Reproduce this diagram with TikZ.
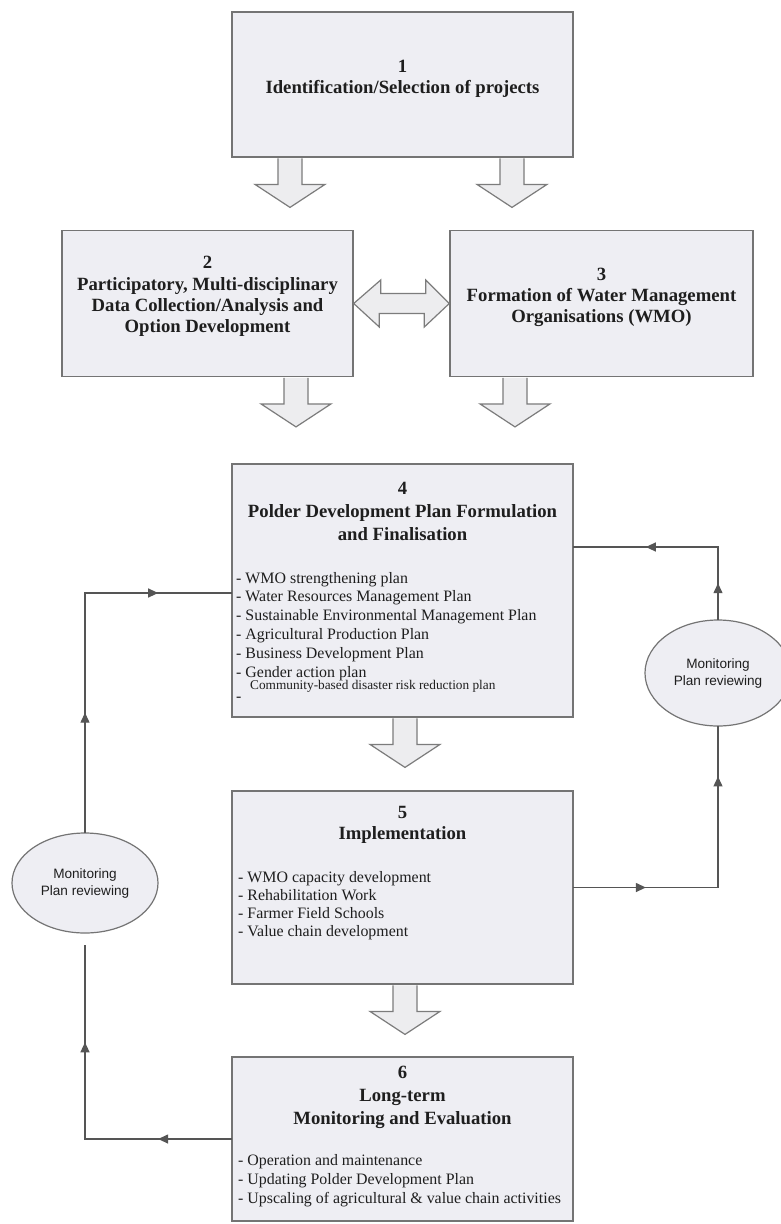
\documentclass[tikz,border=0pt]{standalone}
\usepackage{fontspec}
\setmainfont{Liberation Serif}
\newfontfamily\arialf{Liberation Sans}
\usetikzlibrary{arrows.meta,decorations.markings,shapes.geometric,calc}
\definecolor{boxfill}{HTML}{EEEEF3}
\definecolor{boxline}{HTML}{747474}
\definecolor{arrfill}{HTML}{EDEDEF}
\definecolor{arrline}{HTML}{7C7C7C}
\definecolor{connline}{HTML}{555555}
\definecolor{txt}{HTML}{1E1E1E}
\tikzset{
  box/.style={draw=boxline, fill=boxfill, line width=1.4pt, rectangle, inner sep=0pt},
  ell/.style={draw=boxline, fill=boxfill, line width=1.2pt, ellipse, inner sep=0pt,
    font=\arialf\fontsize{13.6}{17}\selectfont, align=center, text=txt},
  ttl/.style={font=\fontsize{18.7}{21}\selectfont\bfseries, anchor=base, inner sep=0pt, text=txt},
  lst/.style={font=\fontsize{15.9}{18}\selectfont, anchor=base west, inner sep=0pt, text=txt},
  lsts/.style={font=\fontsize{13.3}{15}\selectfont, anchor=base west, inner sep=0pt, text=txt},
  blk/.style={draw=arrline, fill=arrfill, line width=1.2pt, line join=miter},
  conn/.style={draw=connline, line width=1.3pt, line cap=rect},
  midarr/.style={postaction={decorate}, decoration={markings,
    mark=at position #1 with {\arrow{Triangle[length=10pt,width=9pt]}}}},
  midarr/.default=0.5,
  downblk/.pic={\filldraw[blk] (-12,0) -- (-12,26) -- (-35,26) -- (0,49) -- (35,26) -- (12,26) -- (12,0);}
}
\begin{document}
\begin{tikzpicture}[x=1pt,y=-1pt]
\path[use as bounding box, clip] (0,0) rectangle (781,1224);
\fill[white] (0,0) rectangle (781,1224);

% boxes
\node[box, minimum width=341pt, minimum height=145pt] (b1) at (402.5,84.5) {};
\node[box, minimum width=291pt, minimum height=146pt] (b2) at (207.5,303.5) {};
\node[box, minimum width=303pt, minimum height=146pt] (b3) at (601.5,303.5) {};
\node[box, minimum width=341pt, minimum height=253pt] (b4) at (402.5,590.5) {};
\node[box, minimum width=341pt, minimum height=193pt] (b5) at (402.5,887.5) {};
\node[box, minimum width=341pt, minimum height=164pt] (b6) at (402.5,1139) {};

% block arrows
\pic at ([xshift=-112.5pt,yshift=-0.7pt]b1.south) {downblk};
\pic at ([xshift=109.5pt,yshift=-0.7pt]b1.south) {downblk};
\pic at ([xshift=88.5pt,yshift=-0.7pt]b2.south) {downblk};
\pic at ([xshift=-86.5pt,yshift=-0.7pt]b3.south) {downblk};
\pic at ([xshift=2.5pt,yshift=-0.7pt]b4.south) {downblk};
\pic at ([xshift=2.5pt,yshift=-0.7pt]b5.south) {downblk};
\filldraw[blk] (b2.east) -- ++(27,-23.5) -- ++(0,13.5) -- ++(45,0) -- ++(0,-13.5)
  -- (b3.west) -- ++(-25,23.5) -- ++(0,-13.5) -- ++(-45,0) -- ++(0,13.5) -- cycle;

% titles
\node[ttl] (t1a) at (402.5,72) {1};
\node[ttl] (t1b) at (402.5,93) {Identification/Selection of projects};
\node[ttl] (t2a) at (207.5,268) {2};
\node[ttl] (t2b) at (207.5,290) {Participatory, Multi-disciplinary};
\node[ttl] (t2c) at (207.5,311) {Data Collection/Analysis and};
\node[ttl] (t2d) at (207.5,332) {Option Development};
\node[ttl] (t3a) at (601.5,280) {3};
\node[ttl] (t3b) at (601.5,301) {Formation of Water Management};
\node[ttl] (t3c) at (601.5,322) {Organisations (WMO)};
\node[ttl] (t4a) at (402.5,494) {4};
\node[ttl] (t4b) at (402.5,517) {Polder Development Plan Formulation};
\node[ttl] (t4c) at (402.5,540) {and Finalisation};
\node[ttl] (t5a) at (402.5,818) {5};
\node[ttl] (t5b) at (402.5,839) {Implementation};
\node[ttl] (t6a) at (402.5,1078) {6};
\node[ttl] (t6b) at (402.5,1101) {Long-term};
\node[ttl] (t6c) at (402.5,1124) {Monitoring and Evaluation};

% lists
\foreach \t [count=\i] in {{- WMO strengthening plan},{- Water Resources Management Plan},
  {- Sustainable Environmental Management Plan},{- Agricultural Production Plan},
  {- Business Development Plan},{- Gender action plan}}
  \node[lst] (l4-\i) at (236,{583+18.8*(\i-1)}) {\t};
\node[lsts] (l4-7) at (250,689) {Community-based disaster risk reduction plan};
\node[lst] (l4-8) at (236,701) {-};
\foreach \t [count=\i] in {{- WMO capacity development},{- Rehabilitation Work},
  {- Farmer Field Schools},{- Value chain development}}
  \node[lst] (l5-\i) at (238,{882+18.2*(\i-1)}) {\t};
\foreach \t [count=\i] in {{- Operation and maintenance},{- Updating Polder Development Plan},
  {- Upscaling of agricultural \& value chain activities}}
  \node[lst] (l6-\i) at (238,{1165+19*(\i-1)}) {\t};

% ellipses
\node[ell, minimum width=146pt, minimum height=106pt] (eR) at (718,673) {Monitoring\\Plan reviewing};
\node[ell, minimum width=146pt, minimum height=100pt] (eL) at (85,883) {Monitoring\\Plan reviewing};

% right loop
\coordinate (r1) at (b5.east -| eR.south);
\coordinate (r2) at (718,547);
\draw[conn, midarr] (b5.east) -- (r1);
\draw[conn, midarr=0.69] (r1) -- (eR.south);
\draw[conn, midarr] (eR.north) -- (r2);
\draw[conn, midarr] (r2) -- (r2 -| b4.east);

% left loop
\coordinate (q1) at (b6.west -| eL.south);
\coordinate (q2) at ([yshift=-12pt]eL.south);
\coordinate (q3) at (85,593);
\draw[conn, midarr] (b6.west) -- (q1);
\draw[conn, midarr] (q1) -- (q2);
\draw[conn, midarr] (eL.north) -- (q3);
\draw[conn, midarr] (q3) -- (q3 -| b4.west);
\end{tikzpicture}
\end{document}
